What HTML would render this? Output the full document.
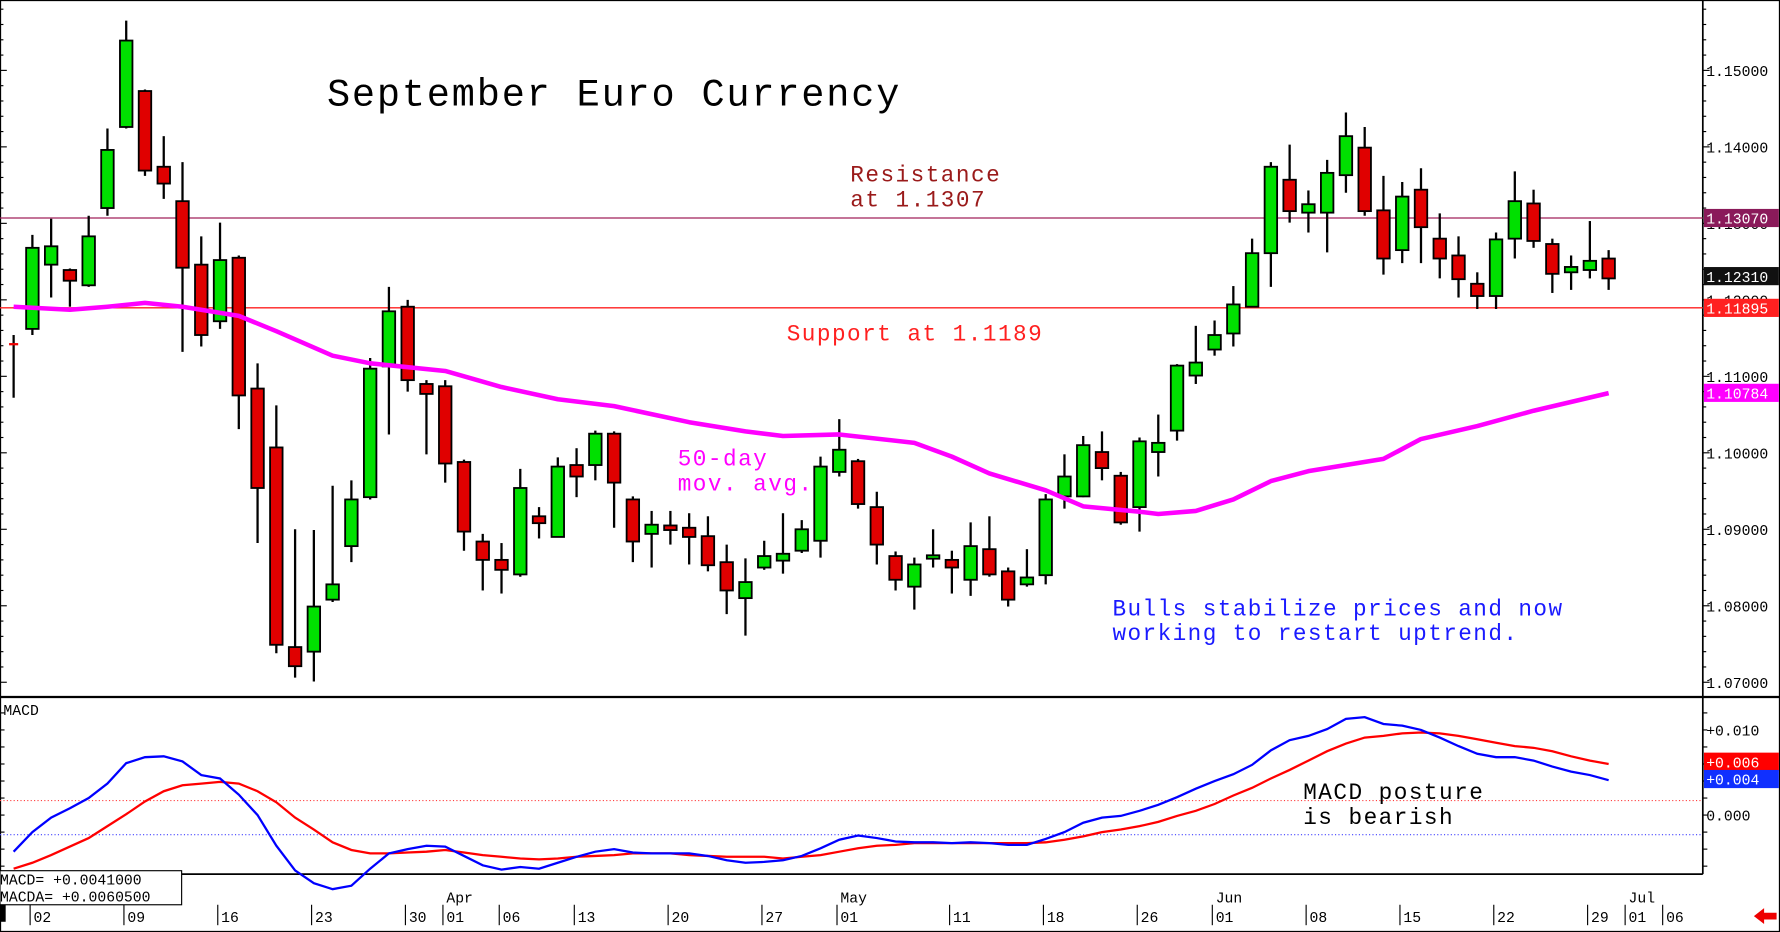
<!DOCTYPE html>
<html><head><meta charset="utf-8"><style>
html,body{margin:0;padding:0;background:#fff;}
svg{display:block;font-family:"Liberation Mono","DejaVu Sans Mono",monospace;}
</style></head><body>
<svg id="chart" width="1780" height="932" viewBox="0 0 1568 821" preserveAspectRatio="none" xmlns="http://www.w3.org/2000/svg">
<rect x="0" y="0" width="1568" height="821" fill="#fff"/>
<g id="grid"></g><g id="marks"></g><g id="labels"></g>
</svg>
<script>
const opens=[11142,11162,11246,11239,11219,11320,11426,11473,11374,11329,11246,11172,11255,11084,11007,10746,10740,10808,10878,10942,11113,11191,11090,11087,10988,10884,10860,10841,10917,10890,10984,10984,11025,10939,10894,10905,10902,10891,10857,10810,10850,10859,10872,10885,10975,10989,10929,10865,10825,10864,10860,10834,10874,10845,10828,10840,10943,10943,11001,10970,10929,11001,11029,11101,11135,11156,11191,11261,11357,11314,11314,11363,11399,11317,11265,11344,11280,11258,11221,11205,11280,11326,11273,11236,11239,11254];
const highs=[11154,11285,11306,11241,11310,11424,11565,11475,11414,11380,11283,11301,11258,11117,11062,10900,10899,10957,10964,11124,11217,11200,11095,11095,10991,10894,10882,10979,10929,10994,11006,11029,11028,10943,10924,10924,10921,10917,10880,10862,10885,10921,10912,10995,11044,10992,10949,10871,10863,10900,10872,10909,10917,10850,10874,10946,10998,11022,11028,10975,11020,11050,11116,11166,11173,11218,11280,11380,11403,11343,11383,11445,11426,11362,11354,11372,11313,11283,11236,11288,11368,11344,11280,11258,11303,11265];
const lows=[11072,11154,11203,11191,11217,11310,11424,11362,11332,11132,11139,11162,11031,10882,10738,10706,10701,10805,10857,10939,11024,11080,10998,10961,10872,10820,10816,10838,10888,10890,10942,10964,10902,10857,10850,10880,10854,10845,10789,10761,10847,10842,10869,10863,10969,10927,10854,10820,10795,10850,10816,10813,10838,10799,10825,10828,10927,10942,10964,10906,10897,10969,11016,11090,11127,11139,11190,11217,11301,11288,11262,11340,11310,11233,11248,11248,11228,11203,11188,11188,11254,11268,11209,11213,11228,11213];
const closes=[11142,11268,11270,11225,11283,11396,11539,11369,11352,11242,11154,11252,11075,10954,10749,10721,10799,10828,10939,11110,11185,11095,11077,10986,10897,10860,10847,10954,10908,10982,10969,11025,10961,10884,10906,10899,10890,10853,10820,10831,10865,10868,10900,10982,11004,10933,10880,10834,10854,10866,10850,10878,10841,10808,10837,10939,10969,11010,10980,10909,11015,11013,11114,11118,11154,11194,11261,11374,11316,11325,11366,11414,11316,11254,11335,11295,11254,11227,11205,11279,11329,11277,11234,11243,11251,11228];
const maIdx=[0,3,5,7,9,12,14,17,19,23,26,29,32,36,39,41,44,48,50,52,55,57,60,61,63,65,67,69,73,75,78,81,85];
const maVals=[11191,11187,11191,11196,11191,11179,11159,11127,11117,11107,11086,11070,11061,11040,11028,11022,11024,11013,10995,10973,10951,10930,10923,10920,10924,10939,10963,10976,10992,11018,11035,11055,11078];
const macd=[-43,-20,-3,8,20,37,61,68,69,63,47,43,24,0,-36,-65,-80,-87,-83,-63,-45,-40,-36,-37,-48,-59,-64,-61,-63,-56,-49,-43,-40,-44,-45,-45,-45,-48,-53,-56,-55,-53,-48,-39,-29,-24,-27,-31,-32,-32,-33,-32,-33,-35,-35,-28,-20,-9,-3,-1,5,12,21,31,40,48,59,76,88,93,101,113,115,107,105,100,91,81,72,68,68,64,57,51,47,41];
const signal=[-63,-56,-47,-37,-27,-13,1,16,28,35,37,39,37,28,15,-3,-17,-32,-41,-45,-45,-44,-43,-41,-44,-47,-49,-51,-52,-51,-49,-48,-47,-45,-45,-45,-47,-48,-49,-49,-49,-51,-49,-47,-43,-39,-36,-35,-33,-33,-33,-33,-33,-33,-33,-32,-29,-25,-20,-17,-13,-8,-1,5,13,23,32,43,53,64,75,84,91,93,96,97,96,93,89,85,81,79,75,69,64,60];
const priceTicks=[11500,11400,11300,11200,11100,11000,10900,10800,10700];
const priceTickLabels=["1.15000","1.14000","1.13000","1.12000","1.11000","1.10000","1.09000","1.08000","1.07000"];
const macdTicks=[100,0];
const macdTickLabels=["+0.010","0.000"];
const dayIdx=[1,6,11,16,21,23,26,30,35,40,44,50,55,60,64,69,74,79,84,86,88];
const dayLabels=["02","09","16","23","30","01","06","13","20","27","01","11","18","26","01","08","15","22","29","01","06"];
const monthIdx=[23,44,64,86];
const monthLabels=["Apr","May","Jun","Jul"];
const resistance=11307, support=11189.5, lastPrice=11231, maLast=11078.4;

const NS="http://www.w3.org/2000/svg";
const X=i=>12+i*16.53;
const Y=p=>62+(11500-p)*0.67375;
const MY=v=>718-v*0.75;
const G=document.getElementById('grid'),M=document.getElementById('marks'),L=document.getElementById('labels');
function mk(t,a,p){const e=document.createElementNS(NS,t);for(const k in a)e.setAttribute(k,a[k]);(p||M).appendChild(e);return e;}
function txt(s,x,y,a,p){const e=mk('text',Object.assign({x:x,y:y},a),p||L);e.textContent=s;return e;}

let e;
e=mk('rect',{x:0.5,y:0.5,width:1567,height:820,fill:'none',stroke:'#000','stroke-width':1},G);

e=mk('line',{x1:1500,y1:0,x2:1500,y2:770,stroke:'#000','stroke-width':1.5},G);

e=mk('line',{x1:0,y1:614,x2:1568,y2:614,stroke:'#000','stroke-width':2},G);

e=mk('line',{x1:0,y1:770,x2:1500,y2:770,stroke:'#000','stroke-width':1.5},G);

for(let p=10700;p<=11580;p+=20){const y=Y(p);if(y<2||y>612)continue;const big=p%100===0;
 mk('line',{x1:1500,y1:y,x2:1500+(big?6:3),y2:y,stroke:'#000'},G);
 mk('line',{x1:0,y1:y,x2:big?6:3,y2:y,stroke:'#000'},G);}
for(let v=-120;v<=130;v+=20){const y=MY(v);if(y<618||y>768)continue;
 mk('line',{x1:1500,y1:y,x2:1504,y2:y,stroke:'#000'},G);mk('line',{x1:0,y1:y,x2:4,y2:y,stroke:'#000'},G);}
priceTicks.forEach((p,i)=>{e=txt(priceTickLabels[i],1503,Y(p)+5,{'font-size':13,fill:'#000'});
 });
macdTicks.forEach((v,i)=>{e=txt(macdTickLabels[i],1503,MY(v)+5,{'font-size':13,fill:'#000'});
 });

e=mk('line',{x1:0,y1:Y(resistance),x2:1500,y2:Y(resistance),stroke:'#a0205a','stroke-width':1.2},G);

e=mk('line',{x1:0,y1:Y(support),x2:1500,y2:Y(support),stroke:'#ff2020','stroke-width':1.2},G);

e=mk('line',{x1:0,y1:MY(17),x2:1500,y2:MY(17),stroke:'#ff4040','stroke-width':1,'stroke-dasharray':'1,2'},G);

e=mk('line',{x1:0,y1:MY(-23),x2:1500,y2:MY(-23),stroke:'#4040ff','stroke-width':1,'stroke-dasharray':'1,2'},G);


opens.forEach((o,i)=>{const c=closes[i],x=X(i);
 e=mk('line',{x1:x,y1:Y(highs[i]),x2:x,y2:Y(lows[i]),stroke:'#000','stroke-width':2});
 
 const top=Y(Math.max(o,c)),bot=Y(Math.min(o,c));
 if(i===0){e=mk('line',{x1:x-4,y1:top,x2:x+4,y2:top,stroke:'#e00','stroke-width':2});}
 else{e=mk('rect',{x:x-5.5,y:top,width:11,height:Math.max(bot-top,3),fill:c>=o?'#00e000':'#e00000',stroke:'#000','stroke-width':1.6});}
 
});
e=mk('path',{d:maIdx.map((k,j)=>(j?'L':'M')+X(k)+','+Y(maVals[j])).join(''),fill:'none',stroke:'#ff00ff','stroke-width':4,'stroke-linejoin':'round'});

e=mk('path',{d:signal.map((v,i)=>(i?'L':'M')+X(i)+','+MY(v)).join(''),fill:'none',stroke:'#ff0000','stroke-width':2});

e=mk('path',{d:macd.map((v,i)=>(i?'L':'M')+X(i)+','+MY(v)).join(''),fill:'none',stroke:'#0000ff','stroke-width':2});


function box(label,y,bg,name){const g=mk('g',{},L);
 
 mk('rect',{x:1501,y:y-8,width:66,height:16,fill:bg},g);
 const t=mk('text',{x:1503,y:y+5,'font-size':13,fill:'#fff'},g);t.textContent=label;}
box('1.13070',Y(resistance),'#8a1a5a','resistance-value-box');
box('1.12310',Y(lastPrice),'#111','last-price-box');
box('1.11895',Y(support),'#ff2020','support-value-box');
box('1.10784',Y(maLast),'#ff00ff','ma-value-box');
box('+0.006',MY(signal[signal.length-1])-2,'#ff0000','signal-value-box');
box('+0.004',MY(macd[macd.length-1])-1,'#1030ff','macd-value-box');

dayIdx.forEach((k,i)=>{const x=X(k)-2;
 mk('line',{x1:x,y1:797,x2:x,y2:815,stroke:'#000'},G);
 e=txt(dayLabels[i],x+3,812,{'font-size':13,fill:'#000'});
 });
monthIdx.forEach((k,i)=>{e=txt(monthLabels[i],X(k)+1,795,{'font-size':13,fill:'#000'});
 });
</script>
<script>
(function(){const L=document.getElementById('labels'),NS="http://www.w3.org/2000/svg";
function t(s,x,y,sz,fill,name,ls){const e=document.createElementNS(NS,'text');e.setAttribute('x',x);e.setAttribute('y',y);e.setAttribute('font-size',sz);e.setAttribute('fill',fill);if(ls)e.setAttribute('letter-spacing',ls);e.textContent=s;


L.appendChild(e);}
t('September Euro Currency',288,93,34,'#000','chart-title',1.6);
t('Resistance',749,160,20,'#9a1a1a','resistance-annotation',1.3);
t('at 1.1307',749,182,20,'#9a1a1a','resistance-annotation',1.3);
t('Support at 1.1189',693,300,20,'#ff2020','support-annotation',1.3);
t('50-day',597,410,20,'#ff00ff','ma-annotation',1.3);
t('mov. avg.',597,432,20,'#ff00ff','ma-annotation',1.3);
t('Bulls stabilize prices and now',980,542,20,'#1a1aff','bulls-annotation',1.25);
t('working to restart uptrend.',980,564,20,'#1a1aff','bulls-annotation',1.25);
t('MACD posture',1148,704,20,'#000','macd-annotation',1.3);
t(' is bearish',1148,726,20,'#000','macd-annotation',1.3);
t('MACD',3,630,13,'#000','macd-panel-title');
const r=document.createElementNS(NS,'rect');r.setAttribute('x',0);r.setAttribute('y',767);r.setAttribute('width',160);r.setAttribute('height',30);r.setAttribute('fill','#fff');r.setAttribute('stroke','#000');


L.appendChild(r);
t('MACD=  +0.0041000',0,779,13,'#000','macd-readout');
t('MACDA= +0.0060500',0,794,13,'#000','macda-readout');
const b=document.createElementNS(NS,'rect');b.setAttribute('x',0);b.setAttribute('y',797);b.setAttribute('width',5);b.setAttribute('height',15);b.setAttribute('fill','#000');


L.appendChild(b);
const a=document.createElementNS(NS,'path');a.setAttribute('d','M1545,807 L1554,800 L1554,804 L1565,804 L1565,810 L1554,810 L1554,814 Z');a.setAttribute('fill','#e00');


L.appendChild(a);
})();
</script>
</body></html>
